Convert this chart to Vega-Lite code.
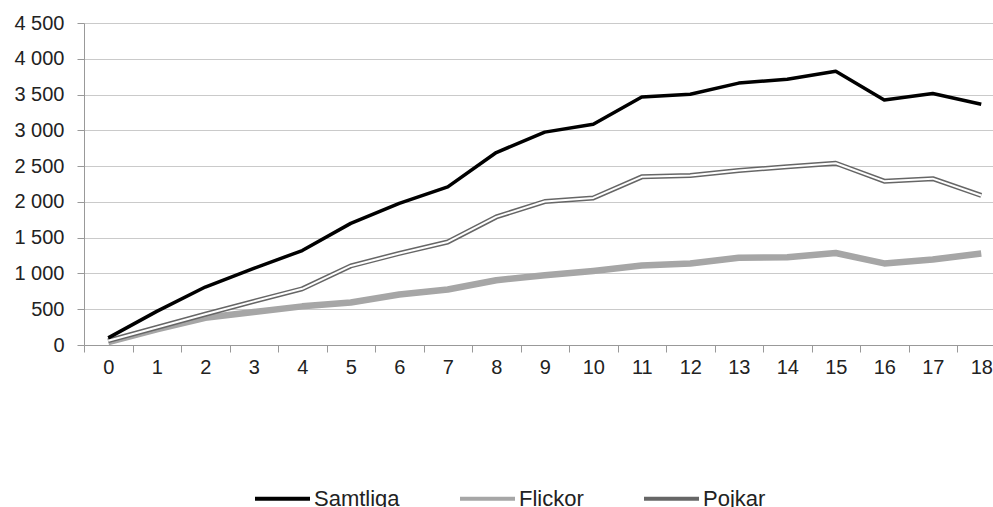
{
  "$schema": "https://vega.github.io/schema/vega-lite/v6.json",
  "width": 909,
  "height": 322,
  "autosize": {"type": "none"},
  "padding": {"left": 84, "top": 23, "right": 0, "bottom": 162},
  "background": "white",
  "config": {"view": {"stroke": null}, "font": "Liberation Sans"},
  "datasets": {
    "d": [
      {"x": 0, "serie": "Flickor", "v": 40}, {"x": 0, "serie": "Pojkar", "v": 60}, {"x": 0, "serie": "Samtliga", "v": 100},
      {"x": 1, "serie": "Flickor", "v": 220}, {"x": 1, "serie": "Pojkar", "v": 245}, {"x": 1, "serie": "Samtliga", "v": 470},
      {"x": 2, "serie": "Flickor", "v": 380}, {"x": 2, "serie": "Pojkar", "v": 430}, {"x": 2, "serie": "Samtliga", "v": 810},
      {"x": 3, "serie": "Flickor", "v": 460}, {"x": 3, "serie": "Pojkar", "v": 610}, {"x": 3, "serie": "Samtliga", "v": 1070},
      {"x": 4, "serie": "Flickor", "v": 540}, {"x": 4, "serie": "Pojkar", "v": 785}, {"x": 4, "serie": "Samtliga", "v": 1320},
      {"x": 5, "serie": "Flickor", "v": 595}, {"x": 5, "serie": "Pojkar", "v": 1105}, {"x": 5, "serie": "Samtliga", "v": 1700},
      {"x": 6, "serie": "Flickor", "v": 705}, {"x": 6, "serie": "Pojkar", "v": 1280}, {"x": 6, "serie": "Samtliga", "v": 1980},
      {"x": 7, "serie": "Flickor", "v": 775}, {"x": 7, "serie": "Pojkar", "v": 1440}, {"x": 7, "serie": "Samtliga", "v": 2210},
      {"x": 8, "serie": "Flickor", "v": 905}, {"x": 8, "serie": "Pojkar", "v": 1790}, {"x": 8, "serie": "Samtliga", "v": 2690},
      {"x": 9, "serie": "Flickor", "v": 975}, {"x": 9, "serie": "Pojkar", "v": 2005}, {"x": 9, "serie": "Samtliga", "v": 2975},
      {"x": 10, "serie": "Flickor", "v": 1035}, {"x": 10, "serie": "Pojkar", "v": 2055}, {"x": 10, "serie": "Samtliga", "v": 3085},
      {"x": 11, "serie": "Flickor", "v": 1110}, {"x": 11, "serie": "Pojkar", "v": 2350}, {"x": 11, "serie": "Samtliga", "v": 3465},
      {"x": 12, "serie": "Flickor", "v": 1140}, {"x": 12, "serie": "Pojkar", "v": 2370}, {"x": 12, "serie": "Samtliga", "v": 3505},
      {"x": 13, "serie": "Flickor", "v": 1220}, {"x": 13, "serie": "Pojkar", "v": 2440}, {"x": 13, "serie": "Samtliga", "v": 3660},
      {"x": 14, "serie": "Flickor", "v": 1225}, {"x": 14, "serie": "Pojkar", "v": 2490}, {"x": 14, "serie": "Samtliga", "v": 3715},
      {"x": 15, "serie": "Flickor", "v": 1285}, {"x": 15, "serie": "Pojkar", "v": 2540}, {"x": 15, "serie": "Samtliga", "v": 3825},
      {"x": 16, "serie": "Flickor", "v": 1140}, {"x": 16, "serie": "Pojkar", "v": 2290}, {"x": 16, "serie": "Samtliga", "v": 3425},
      {"x": 17, "serie": "Flickor", "v": 1195}, {"x": 17, "serie": "Pojkar", "v": 2325}, {"x": 17, "serie": "Samtliga", "v": 3515},
      {"x": 18, "serie": "Flickor", "v": 1280}, {"x": 18, "serie": "Pojkar", "v": 2090}, {"x": 18, "serie": "Samtliga", "v": 3365}
    ]
  },
  "data": {"name": "d"},
  "encoding": {
    "x": {
      "field": "x",
      "type": "ordinal",
      "bandPosition": 0.5,
      "scale": {"type": "band", "paddingInner": 0, "paddingOuter": 0, "range": [0, 921.5]},
      "axis": {
        "title": null,
        "labelAngle": 0,
        "tickBand": "extent",
        "grid": false,
        "domainColor": "#999999",
        "tickColor": "#999999",
        "tickSize": 7,
        "labelPadding": 5,
        "labelFontSize": 20,
        "labelColor": "#222222",
        "labelFont": "Liberation Sans"
      }
    },
    "y": {
      "field": "v",
      "type": "quantitative",
      "scale": {"domain": [0, 4500], "nice": false},
      "axis": {
        "title": null,
        "values": [0, 500, 1000, 1500, 2000, 2500, 3000, 3500, 4000, 4500],
        "labelExpr": "replace(format(datum.value, ','), ',', ' ')",
        "grid": true,
        "gridColor": "#cacaca",
        "gridWidth": 1.2,
        "domainColor": "#999999",
        "tickColor": "#999999",
        "tickSize": 7,
        "labelPadding": 13,
        "labelFontSize": 20,
        "labelColor": "#222222",
        "labelFont": "Liberation Sans"
      }
    }
  },
  "layer": [
    {
      "mark": {"type": "line", "strokeJoin": "round"},
      "encoding": {
        "color": {
          "field": "serie",
          "type": "nominal",
          "scale": {"domain": ["Samtliga", "Flickor", "Pojkar"], "range": ["#000000", "#a6a6a6", "#666666"]},
          "legend": {
            "title": null,
            "orient": "none",
            "direction": "horizontal",
            "legendX": 169,
            "legendY": 446,
            "padding": 0,
            "symbolType": "stroke",
            "symbolSize": 3025,
            "symbolStrokeWidth": 4,
            "labelFontSize": 22,
            "labelColor": "#222222",
            "labelFont": "Liberation Sans",
            "labelOffset": 2,
            "columnPadding": 52
          }
        },
        "strokeWidth": {
          "condition": [
            {"test": "datum.serie === 'Flickor'", "value": 6.5},
            {"test": "datum.serie === 'Pojkar'", "value": 5}
          ],
          "value": 3.5
        }
      }
    },
    {
      "transform": [{"filter": "datum.serie === 'Pojkar'"}],
      "mark": {"type": "line", "color": "#ffffff", "strokeWidth": 2, "strokeJoin": "round"},
      "encoding": {}
    }
  ]
}
